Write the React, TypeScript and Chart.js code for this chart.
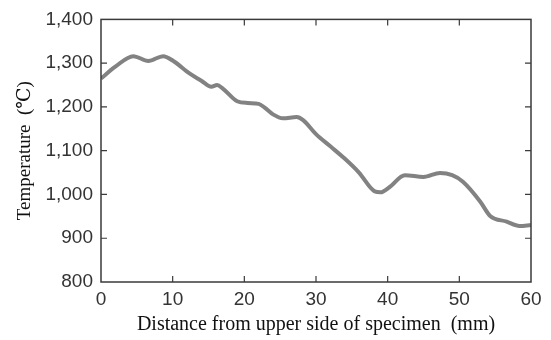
import React, { useEffect, useRef } from "react";
import { Chart, registerables } from "chart.js";

Chart.register(...registerables);

const distances = [0, 2, 4.5, 6.6, 8.7, 10, 12.4, 14, 15.4, 16.2, 17, 19, 20.5, 22, 22.8, 24, 25.4, 27.3, 28.2, 30, 32, 34, 36, 38.2, 39, 40.2, 42.4, 45, 47.3, 49, 50.5, 52.9, 54.3, 56.6, 58.4, 60];
const temperatures = [1265, 1292, 1316, 1305, 1316, 1306, 1276, 1260, 1246, 1250, 1242, 1213, 1209, 1207, 1199, 1183, 1174, 1177, 1170, 1138, 1110, 1082, 1050, 1007, 1005, 1016, 1044, 1040, 1049, 1044, 1029, 984, 951, 938, 928, 930];
const xTitle = "Distance from upper side of specimen  (mm)";
const yTitle = "Temperature  (\u2103)";

const boxTicks = {
  id: "boxTicks",
  afterDraw(chart: any) {
    const { ctx, chartArea } = chart;
    const { left, right, top, bottom } = chartArea;
    const xs = chart.scales.x;
    const ys = chart.scales.y;
    const len = 6;
    ctx.save();
    ctx.strokeStyle = "#3a3a3a";
    ctx.lineWidth = 1.5;
    ctx.strokeRect(left, top, right - left, bottom - top);
    ctx.lineWidth = 1.2;
    ctx.beginPath();
    xs.ticks.forEach((t: any) => {
      const px = xs.getPixelForValue(t.value);
      if (px <= left + 1 || px >= right - 1) return;
      ctx.moveTo(px, bottom);
      ctx.lineTo(px, bottom - len);
      ctx.moveTo(px, top);
      ctx.lineTo(px, top + len);
    });
    ys.ticks.forEach((t: any) => {
      const py = ys.getPixelForValue(t.value);
      if (py <= top + 1 || py >= bottom - 1) return;
      ctx.moveTo(left, py);
      ctx.lineTo(left + len, py);
      ctx.moveTo(right, py);
      ctx.lineTo(right - len, py);
    });
    ctx.stroke();
    ctx.restore();
  },
};

export default function App() {
  const ref = useRef<HTMLCanvasElement>(null);
  useEffect(() => {
    document.body.style.margin = "0";
    const canvas = ref.current!;
    const chart = new Chart(canvas, {
      type: "line",
      data: {
        datasets: [
          {
            data: distances.map((d, i) => ({ x: d, y: temperatures[i] })),
            borderColor: "#828282",
            borderWidth: 4,
            pointRadius: 0,
            cubicInterpolationMode: "monotone",
            fill: false,
          },
        ],
      },
      options: {
        animation: false,
        responsive: false,
        maintainAspectRatio: false,
        layout: { padding: { top: 15, right: 20, left: 1, bottom: 0 } },
        plugins: { legend: { display: false }, tooltip: { enabled: false } },
        scales: {
          x: {
            type: "linear",
            min: 0,
            max: 60,
            ticks: {
              stepSize: 10,
              padding: 6,
              color: "#333",
              font: { family: "'Liberation Sans', Arial, sans-serif", size: 19 },
              maxRotation: 0,
            },
            grid: { display: false, drawTicks: false },
            border: { display: false },
            title: {
              display: true,
              text: xTitle,
              color: "#111",
              font: { family: "'Liberation Serif', 'DejaVu Serif', serif", size: 20 },
              padding: { top: 2, bottom: 3 },
            },
            afterFit: (s: any) => {
              s.height = 58;
            },
          },
          y: {
            min: 800,
            max: 1400,
            ticks: {
              stepSize: 100,
              padding: 8,
              color: "#333",
              font: { family: "'Liberation Sans', Arial, sans-serif", size: 19 },
              callback: (v: any) => Number(v).toLocaleString("en-US"),
            },
            grid: { display: false, drawTicks: false },
            border: { display: false },
            title: {
              display: true,
              text: yTitle,
              color: "#111",
              font: { family: "'Liberation Serif', 'DejaVu Serif', serif", size: 19 },
              padding: { top: 13, bottom: 4 },
            },
            afterFit: (s: any) => {
              s.width = 100;
            },
          },
        },
      },
      plugins: [boxTicks],
    });
    return () => chart.destroy();
  }, []);
  return (
    <div style={{ width: 551, height: 340 }}>
      <canvas ref={ref} width={551} height={340} style={{ display: "block" }} />
    </div>
  );
}
